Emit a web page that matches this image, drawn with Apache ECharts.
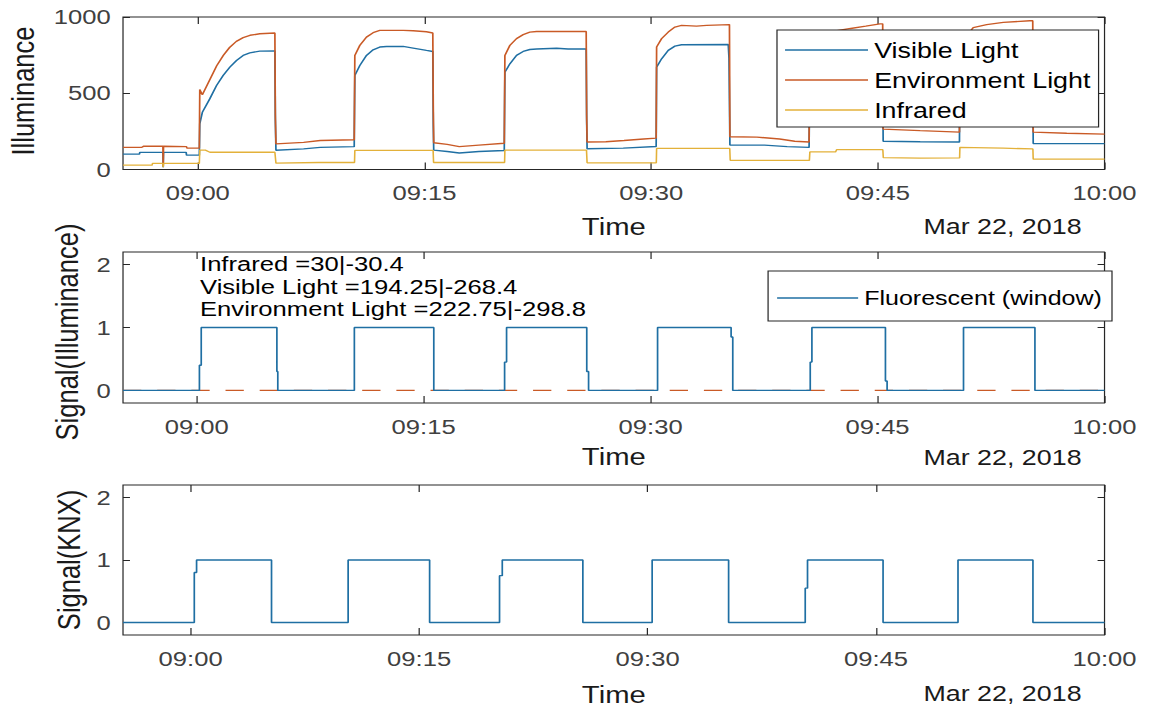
<!DOCTYPE html>
<html>
<head>
<meta charset="utf-8">
<script src="https://cdn.jsdelivr.net/npm/echarts@6/dist/echarts.min.js"></script>
<style>
  html, body { margin: 0; padding: 0; background: #fff; overflow: hidden; }
  /* the figure is laid out at 944px and widened to the full 1152px page */
  #chart { width: 944px; height: 709px; transform: scaleX(1.22034); transform-origin: 0 0; }
</style>
</head>
<body>
<div id="chart"></div>
<script>
// ---- time axis: minutes after 09:00 on Mar 22, 2018 ----
const minuteTicks = [0, 15, 30, 45, 60];
const luxTicks = [0, 500, 1000];
const signalTicks = [0, 1, 2];
const dateLabel = 'Mar 22, 2018';

// ---- illuminance sensors [minute, lux] ----
const visibleLight = [
  [-4.95,101],[-3.86,101],[-3.84,112],[-2.31,112],[-2.29,15],[-2.27,112],[-0.77,112],[-0.75,94],[0.10,94],
  [0.13,300],[0.30,375],[0.79,463],[1.24,551],[1.68,617],[2.12,671],[2.56,715],[3.00,748],[3.44,765],[4.10,776],[5.10,778],
  [5.13,330],[5.17,126],[7.00,135],[8.10,145],[10.35,150],
  [10.37,400],[10.39,617],[10.72,682],[11.16,748],[11.60,785],[12.04,803],[12.49,807],[13.59,807],[14.25,796],[15.13,781],[15.55,774],
  [15.58,300],[15.61,127],[16.50,118],[17.30,108],[18.60,118],[20.28,125],
  [20.30,400],[20.32,638],[20.65,693],[21.09,748],[21.53,774],[21.97,787],[22.42,790],[23.74,795],[24.50,790],[25.70,790],
  [25.73,330],[25.76,136],[28.15,140],[30.33,151],
  [30.36,671],[30.69,726],[31.13,781],[31.57,809],[32.01,818],[35.10,820],[35.15,730],
  [35.21,160],[37.50,160],[39.00,150],[40.45,145],
  [40.50,650],[41.00,740],[41.60,790],[42.30,815],[43.20,825],[45.32,830],
  [45.35,185],[47.80,182],[50.40,180],
  [50.43,680],[50.90,760],[51.31,805],[52.20,830],[53.30,840],[55.25,845],
  [55.28,170],[60.00,170]
];

const environmentLight = [
  [-4.95,145],[-3.70,146],[-3.60,152],[-2.31,152],[-2.29,20],[-2.27,152],[-0.75,150],[-0.72,140],[0.10,140],
  [0.13,525],[0.30,490],[0.80,590],[1.25,680],[1.70,750],[2.10,800],[2.55,840],[3.00,865],[3.45,880],[4.10,890],[5.10,895],
  [5.13,360],[5.17,168],[7.00,178],[8.10,190],[10.35,195],
  [10.37,460],[10.39,748],[10.72,814],[11.16,868],[11.60,897],[12.04,912],[13.60,912],[14.25,910],[15.13,903],[15.55,895],
  [15.58,420],[15.61,175],[16.50,165],[17.30,150],[18.60,160],[20.28,172],
  [20.30,450],[20.32,748],[20.65,814],[21.09,858],[21.53,884],[21.97,901],[22.42,905],[25.70,905],
  [25.73,360],[25.76,180],[27.00,182],[28.20,190],[29.50,200],[30.33,206],
  [30.36,803],[30.69,858],[31.13,901],[31.57,934],[32.01,945],[33.00,940],[33.67,945],[35.18,950],
  [35.21,215],[37.00,212],[38.50,200],[39.50,185],[40.45,180],
  [40.50,780],[41.00,860],[41.60,895],[42.30,910],[43.20,925],[44.20,940],[45.14,955],[45.32,955],
  [45.35,265],[47.80,255],[50.40,245],
  [50.43,800],[50.90,880],[51.31,930],[52.20,950],[53.30,965],[55.06,975],[55.25,975],
  [55.28,245],[57.50,238],[60.00,232]
];

const infrared = [
  [-4.95,29],[-3.02,29],[-3.00,40],[-2.31,40],[-2.29,15],[-2.27,40],[0.10,40],
  [0.13,127],[0.50,127],[0.80,113],[5.10,113],
  [5.17,42],[8.00,46],[10.37,46],
  [10.39,125],[15.57,125],
  [15.60,46],[20.30,46],
  [20.32,127],[25.72,127],
  [25.76,44],[30.34,44],
  [30.36,138],[35.20,138],
  [35.23,60],[40.47,60],
  [40.50,115],[42.20,115],[42.27,130],[45.33,130],
  [45.36,78],[47.80,74],[50.41,76],
  [50.43,145],[53.30,140],[55.26,135],
  [55.28,68],[60.00,68]
];

// ---- detected fluorescent state: change times and levels ----
const fluorTime  = [-4.87, 0.18, 0.30, 5.30, 5.36, 10.42, 15.67, 20.35, 20.48, 25.78, 25.90, 30.46, 35.32, 35.43, 40.55, 40.66, 45.52, 45.63, 50.68, 55.40, 60];
const fluorState = [0, 0.4, 1, 0.3, 0, 1, 0, 0.45, 1, 0.3, 0, 1, 0.85, 0, 0.45, 1, 0.15, 0, 1, 0, 0];
const baselineTime = [-4.87, 60];
const baselineLevel = [0, 0];

// ---- KNX switching signal ----
const knxTime  = [-4.44, 0.24, 0.39, 5.31, 10.34, 15.69, 20.28, 20.46, 25.75, 30.30, 35.32, 40.35, 40.50, 45.46, 50.38, 55.30, 60];
const knxState = [0, 0.8, 1, 0, 1, 0, 0.75, 1, 0, 1, 0, 0.55, 1, 0, 1, 0, 0];

// ---- threshold read-out printed in the middle panel ----
const annotationLines = ['Infrared =30|-30.4', 'Visible Light =194.25|-268.4', 'Environment Light =222.75|-298.8'];

const FONT = '"Liberation Sans", Arial, sans-serif';
const AX = '#262626';
const BLUE = '#1f6fa3';
const ORANGE = '#c95a26';
const YELLOW = '#e3b13a';

const zip = (xs, ys) => xs.map((x, i) => [x, ys[i]]);
const clock = m => {
  const t = 9 * 60 + m;
  return String(Math.floor(t / 60)).padStart(2, '0') + ':' + String(Math.round(t % 60)).padStart(2, '0');
};

function xAxisPair(gridIndex, min) {
  const common = {
    type: 'value', gridIndex, min, max: 60,
    axisLine: { show: false, onZero: false }, splitLine: { show: false },
    axisTick: { show: true, inside: true, length: 7, customValues: minuteTicks, lineStyle: { color: AX, width: 1 } }
  };
  return [
    Object.assign({}, common, {
      position: 'bottom',
      axisLabel: { customValues: minuteTicks, formatter: clock, margin: 13, color: '#404040', fontSize: 21, fontFamily: FONT }
    }),
    Object.assign({}, common, { position: 'top', axisLabel: { show: false } })
  ];
}

function yAxisPair(gridIndex, min, max, ticks) {
  const common = {
    type: 'value', gridIndex, min, max,
    axisLine: { show: false, onZero: false }, splitLine: { show: false },
    axisTick: { show: true, inside: true, length: 5.7, customValues: ticks, lineStyle: { color: AX, width: 1 } }
  };
  return [
    Object.assign({}, common, {
      position: 'left',
      axisLabel: { customValues: ticks, formatter: v => String(v), margin: 10, color: '#404040', fontSize: 21, fontFamily: FONT }
    }),
    Object.assign({}, common, { position: 'right', axisLabel: { show: false } })
  ];
}

const gridBase = { left: 100.8, right: 38.9, show: true, borderColor: AX, borderWidth: 1, backgroundColor: '#fff' };

function label(text, x, y, size, opts) {
  return Object.assign({
    type: 'text', x, y, z: 10,
    style: { text, fontSize: size, fontFamily: FONT, fill: '#1a1a1a', align: 'center', verticalAlign: 'middle' }
  }, opts || {});
}

const lineSeries = (name, data, color, xi, yi, extra) => Object.assign({
  type: 'line', name, data, xAxisIndex: xi, yAxisIndex: yi,
  symbol: 'none', showSymbol: false, color,
  lineStyle: { width: 1.4, color }, animation: false, silent: true
}, extra || {});

const legendText = size => ({ fontSize: size, lineHeight: 24, color: '#000', fontFamily: FONT });

const option = {
  backgroundColor: '#fff',
  animation: false,
  grid: [
    Object.assign({ top: 17, height: 152.5 }, gridBase),
    Object.assign({ top: 252, height: 151 }, gridBase),
    Object.assign({ top: 485, height: 150 }, gridBase)
  ],
  xAxis: [].concat(xAxisPair(0, -4.95), xAxisPair(1, -4.87), xAxisPair(2, -4.44)),
  yAxis: [].concat(yAxisPair(0, 0, 1000, luxTicks), yAxisPair(1, -0.2, 2.2, signalTicks), yAxisPair(2, -0.2, 2.2, signalTicks)),
  legend: [
    {
      data: ['Visible Light', 'Environment Light', 'Infrared'],
      orient: 'vertical', left: 636.7, top: 30, padding: [8, 6.6, 5, 6.6],
      itemWidth: 68, itemHeight: 1.5, itemGap: 6, icon: 'rect',
      backgroundColor: '#fff', borderColor: AX, borderWidth: 1, borderRadius: 0,
      selectedMode: false, textStyle: legendText(22)
    },
    {
      data: ['Fluorescent (window)'],
      orient: 'vertical', left: 629.4, top: 271, padding: [15, 8.2, 11, 7.4],
      itemWidth: 66.4, itemHeight: 1.5, icon: 'rect',
      backgroundColor: '#fff', borderColor: AX, borderWidth: 1, borderRadius: 0,
      selectedMode: false, textStyle: legendText(20.5)
    }
  ],
  series: [
    lineSeries('Visible Light', visibleLight, BLUE, 0, 0),
    lineSeries('Environment Light', environmentLight, ORANGE, 0, 0),
    lineSeries('Infrared', infrared, YELLOW, 0, 0, { lineStyle: { width: 1.3, color: YELLOW } }),
    lineSeries('Baseline', zip(baselineTime, baselineLevel), ORANGE, 2, 2,
      { lineStyle: { width: 1.3, color: ORANGE, type: [15, 13] }, z: 1 }),
    lineSeries('Fluorescent (window)', zip(fluorTime, fluorState), BLUE, 2, 2, { step: 'end', z: 3 }),
    lineSeries('KNX', zip(knxTime, knxState), BLUE, 4, 4, { step: 'end' })
  ],
  graphic: [
    label('Illuminance', 18.9, 91, 25.5, { rotation: Math.PI / 2 }),
    label('Signal(Illuminance)', 54.9, 332, 25.5, { rotation: Math.PI / 2 }),
    label('Signal(KNX)', 56.5, 560, 25.5, { rotation: Math.PI / 2 }),
    label('Time', 503, 227, 24),
    label('Time', 503, 457, 24),
    label('Time', 503, 695, 24),
    label(dateLabel, 821.5, 226, 22),
    label(dateLabel, 821.5, 457, 22),
    label(dateLabel, 821.5, 693.5, 22),
    {
      type: 'text', x: 163.9, y: 252.75, z: 10,
      style: { text: annotationLines.join('\n'), fontSize: 21, lineHeight: 22.5, fontFamily: FONT,
               fill: '#000', align: 'left', verticalAlign: 'top' }
    }
  ]
};

const chart = echarts.init(document.getElementById('chart'), null, { renderer: 'svg' });
chart.setOption(option);
</script>
</body>
</html>
